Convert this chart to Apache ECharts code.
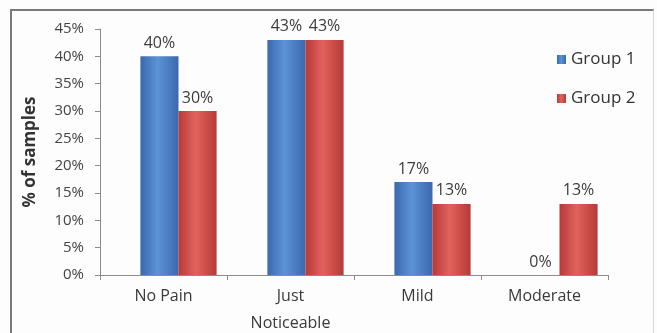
<!DOCTYPE html>
<html>
<head>
<meta charset="utf-8">
<script src="https://cdn.jsdelivr.net/npm/echarts@6/dist/echarts.min.js"></script>
<style>
  html, body { margin: 0; padding: 0; width: 657px; height: 333px; overflow: hidden; background: #fdfdfd; }
  #frame { position: absolute; left: 10px; top: 9px; width: 644px; height: 324px; box-sizing: border-box;
           border-left: 2px solid #7a7a7a; border-top: 2px solid #7a7a7a; border-right: 1px solid #d8d8d8; }
  #chart { position: absolute; left: 0; top: 0; width: 657px; height: 333px; }
</style>
</head>
<body>
<div id="frame"></div>
<div id="chart"></div>
<script>
// Pain level categories and the share of samples per group (percent)
const categories = ['No Pain', 'Just\nNoticeable', 'Mild', 'Moderate'];
const group1 = [40, 43, 17, 0];
const group2 = [30, 43, 13, 13];
const seriesNames = ['Group 1', 'Group 2'];

const FONT = '"Open Sans", Lato, sans-serif';
const AXIS_GRAY = '#8c8c8c';

// Shaded bar fill: darker edges, lighter middle
function shade(edge, mid) {
  return new echarts.graphic.LinearGradient(0, 0, 1, 0, [
    { offset: 0, color: edge },
    { offset: 0.45, color: mid },
    { offset: 1, color: edge }
  ]);
}

const chart = echarts.init(document.getElementById('chart'), null, { renderer: 'canvas' });

const labelStyle = {
  show: true,
  position: 'top',
  distance: 5,
  formatter: p => p.value + '%',
  color: '#3c3c3c',
  fontSize: 16,
  fontFamily: FONT
};

chart.setOption({
  animation: false,
  backgroundColor: 'transparent',
  // grid 0 carries the visible axes; grid 1 holds the bars, set slightly to the right
  grid: [
    { left: 100, right: 49, top: 29, bottom: 58, containLabel: false, outerBoundsMode: 'none' },
    { left: 115, right: 34, top: 29, bottom: 58, containLabel: false, outerBoundsMode: 'none' }
  ],
  legend: {
    orient: 'vertical',
    left: 552,
    top: 46,
    itemGap: 22,
    itemWidth: 9,
    itemHeight: 9,
    icon: 'rect',
    textStyle: { fontSize: 17, color: '#333', fontFamily: FONT },
    data: seriesNames
  },
  xAxis: [
    {
      type: 'category',
      gridIndex: 0,
      data: categories,
      axisLine: { lineStyle: { color: AXIS_GRAY, width: 1 } },
      axisTick: { show: true, length: 5, lineStyle: { color: AXIS_GRAY } },
      axisLabel: { fontSize: 16, color: '#3a3a3a', fontFamily: FONT, margin: 8, lineHeight: 27 }
    },
    {
      type: 'category',
      gridIndex: 1,
      data: categories,
      show: false
    }
  ],
  yAxis: [
    {
      type: 'value',
      gridIndex: 0,
      min: 0,
      max: 45,
      interval: 5,
      name: '% of samples',
      nameLocation: 'middle',
      nameGap: 61,
      nameTextStyle: { fontSize: 17, fontWeight: 'bold', color: '#333', fontFamily: FONT },
      axisLine: { show: true, lineStyle: { color: AXIS_GRAY } },
      axisTick: { show: true, length: 5, lineStyle: { color: AXIS_GRAY } },
      splitLine: { show: false },
      axisLabel: { formatter: '{value}%', fontSize: 15, color: '#444', fontFamily: FONT, margin: 16 }
    },
    {
      type: 'value',
      gridIndex: 1,
      min: 0,
      max: 45,
      interval: 5,
      show: false,
      splitLine: { show: false }
    }
  ],
  series: [
    {
      name: seriesNames[0],
      type: 'bar',
      xAxisIndex: 1,
      yAxisIndex: 1,
      data: group1,
      barGap: '0%',
      barCategoryGap: '40%',
      itemStyle: { color: shade('#3a69ad', '#5d92d6') },
      label: labelStyle
    },
    {
      name: seriesNames[1],
      type: 'bar',
      xAxisIndex: 1,
      yAxisIndex: 1,
      data: group2,
      itemStyle: { color: shade('#b63a38', '#e2625d') },
      label: labelStyle
    }
  ]
});
</script>
</body>
</html>
